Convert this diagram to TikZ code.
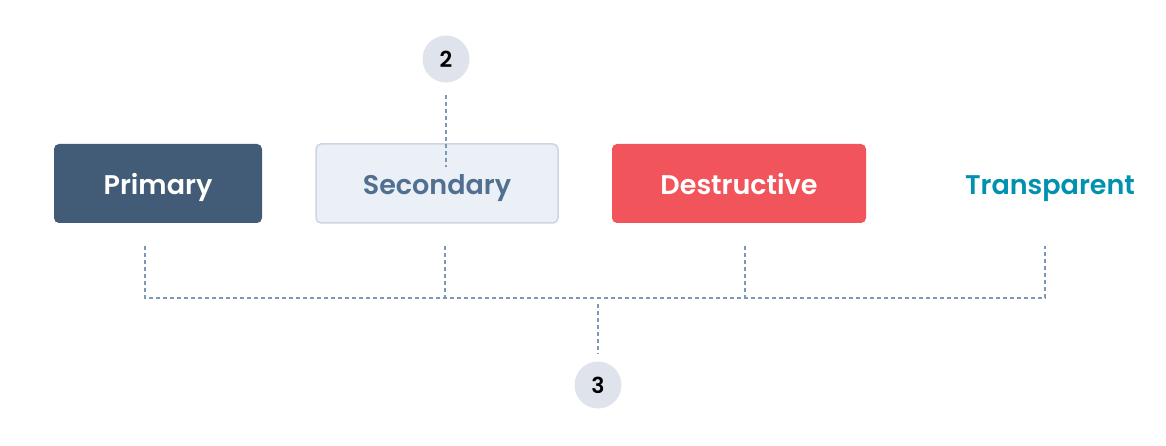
\documentclass[tikz,border=0pt]{standalone}
\usepackage{fontspec}
\setmainfont{Poppins}[BoldFont={Poppins SemiBold}]
\definecolor{slate}{HTML}{425B76}
\definecolor{secbg}{HTML}{EAF0F6}
\definecolor{secline}{HTML}{CBD6E2}
\definecolor{sectext}{HTML}{516F90}
\definecolor{danger}{HTML}{F2545B}
\definecolor{calypso}{HTML}{0091AE}
\definecolor{badgebg}{HTML}{DFE3EB}
\definecolor{guidecol}{HTML}{7C98B6}
\begin{document}
\begin{tikzpicture}[x=1pt,y=-1pt,
  btn/.style={rounded corners=5pt, minimum height=79pt, inner sep=0pt, text height=23pt, text depth=0pt, font=\fontsize{27}{32}\selectfont\bfseries},
  badge/.style={circle, fill=badgebg, minimum size=47pt, inner sep=0pt, font=\fontsize{22}{26}\selectfont\bfseries},
  guide/.style={draw=guidecol, line width=2pt, dash pattern=on 4pt off 3pt}]
\useasboundingbox (0,0) rectangle (1166,446);
\node[btn, fill=slate, text=white, minimum width=208pt] (prim) at (158,183.5) {Primary};
\node[btn, fill=secbg, draw=secline, line width=1.5pt, text=sectext, minimum width=242pt] (sec) at (437,183.5) {Secondary};
\node[btn, fill=danger, text=white, minimum width=254pt] (dest) at (739,183.5) {Destructive};
\node[btn, text=calypso] (trans) at (1050,183.5) {Transparent};
\node[badge] (two) at (446,59) {2};
\node[badge] (three) at (598,385) {3};

\coordinate (in2) at (446,167);
\coordinate (t1) at (145,246);
\coordinate (t2) at (445,246);
\coordinate (t3) at (745,246);
\coordinate (t4) at (1045,246);
\coordinate (bar) at (0,298);
\coordinate (mid) at (598,304);

% callout 2
\draw[guide] ([yshift=-12pt]two.south) -- (in2);
% bracket for 3
\draw[guide] (t1) -- (t1 |- bar) -- (t4 |- bar) -- (t4);
\draw[guide] (t2) -- (t2 |- bar);
\draw[guide] (t3) -- (t3 |- bar);
\draw[guide] (mid) -- ([yshift=8pt]three.north);
\end{tikzpicture}
\end{document}
